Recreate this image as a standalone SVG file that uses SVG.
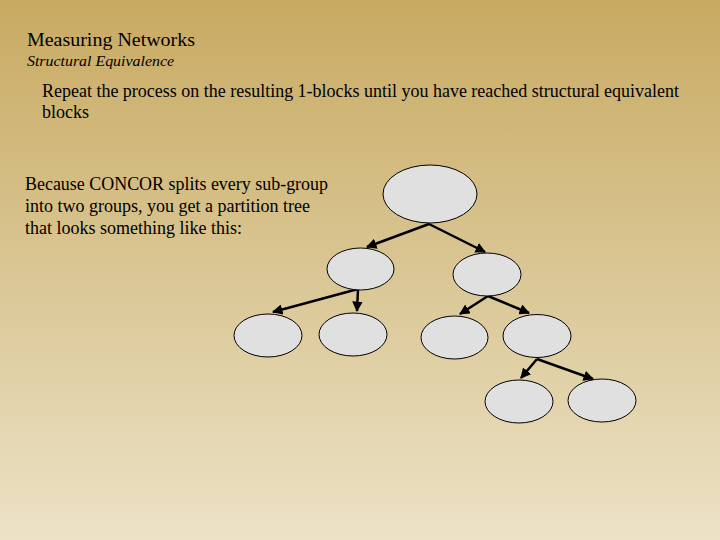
<svg xmlns="http://www.w3.org/2000/svg" width="720" height="540" viewBox="0 0 720 540">
<defs>
<linearGradient id="bg" x1="0" y1="0" x2="0" y2="1">
<stop offset="0" stop-color="#c8aa62"/>
<stop offset="1" stop-color="#ece2c6"/>
</linearGradient>
<marker id="ah" viewBox="0 0 10 10" refX="9" refY="5" markerWidth="4.2" markerHeight="4.2" orient="auto" markerUnits="strokeWidth">
<path d="M0,0 L10,5 L0,10 z" fill="#000"/>
</marker>
<style>
.t{font-family:"Liberation Serif","Times New Roman",serif;fill:#000}
.n{fill:#e0e0e0;stroke:#000;stroke-width:1}
.c{stroke:#000;stroke-width:2.5;fill:none;marker-end:url(#ah)}
</style>
</defs>
<rect width="720" height="540" fill="url(#bg)"/>
<text class="t" x="27" y="46" font-size="19.5" textLength="168" lengthAdjust="spacingAndGlyphs">Measuring Networks</text>
<text class="t" x="27" y="66" font-size="15" font-style="italic" textLength="147" lengthAdjust="spacingAndGlyphs">Structural Equivalence</text>
<text class="t" x="42" y="97" font-size="18" textLength="637" lengthAdjust="spacingAndGlyphs">Repeat the process on the resulting 1-blocks until you have reached structural equivalent</text>
<text class="t" x="42" y="118" font-size="18">blocks</text>
<text class="t" x="25" y="190" font-size="18" textLength="303" lengthAdjust="spacingAndGlyphs">Because CONCOR splits every sub-group</text>
<text class="t" x="25" y="212" font-size="18">into two groups, you get a partition tree</text>
<text class="t" x="25" y="234" font-size="18">that looks something like this:</text>
<g id="connectors">
<line class="c" x1="429" y1="224" x2="367" y2="247"/>
<line class="c" x1="429" y1="224" x2="485" y2="252"/>
<line class="c" x1="358" y1="289" x2="273" y2="312"/>
<line class="c" x1="358" y1="289" x2="357" y2="311"/>
<line class="c" x1="488" y1="296" x2="460" y2="314"/>
<line class="c" x1="488" y1="296" x2="529" y2="313"/>
<line class="c" x1="537" y1="359" x2="521" y2="378"/>
<line class="c" x1="537" y1="359" x2="593" y2="379"/>
</g>
<g id="root"><ellipse class="n" cx="430" cy="194" rx="47" ry="29"/></g>
<g id="l2a"><ellipse class="n" cx="360.5" cy="269" rx="33.5" ry="21"/></g>
<g id="l2b"><ellipse class="n" cx="487" cy="274.5" rx="34" ry="21.5"/></g>
<g id="l3a"><ellipse class="n" cx="268" cy="335.5" rx="34" ry="21.5"/></g>
<g id="l3b"><ellipse class="n" cx="353" cy="334.5" rx="34" ry="21.5"/></g>
<g id="l3c"><ellipse class="n" cx="454.5" cy="337.5" rx="33.5" ry="21.5"/></g>
<g id="l3d"><ellipse class="n" cx="537" cy="336" rx="34" ry="21.5"/></g>
<g id="l4a"><ellipse class="n" cx="519" cy="401.5" rx="34" ry="21.5"/></g>
<g id="l4b"><ellipse class="n" cx="602" cy="400.5" rx="34" ry="21.5"/></g>
</svg>
